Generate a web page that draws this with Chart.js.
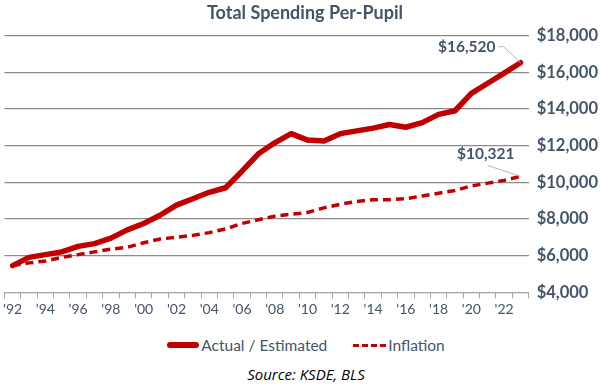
<!DOCTYPE html>
<html>
<head>
<meta charset="utf-8">
<script src="https://cdn.jsdelivr.net/npm/chart.js"></script>
<style>
  body { margin: 0; background: #fff; }
  #wrap { position: relative; width: 612px; height: 390px; font-family: Lato, 'Open Sans', sans-serif; }
  #chartBox { position: absolute; left: 0; top: 0; width: 612px; height: 321px; }
  .legend { position: absolute; top: 336px; left: 0; width: 612px; display: flex; justify-content: center; align-items: center; color: #44546A; font-size: 15.5px; }
  .legend .item { display: flex; align-items: center; margin: 0 10px; }
  .legend .solid { width: 32px; height: 0; border-top: 6px solid #C00000; border-radius: 3px; margin-right: 2px; }
  .legend .dash { width: 33px; height: 0; border-top: 3px dashed #C00000; margin-right: 2px; }
  .source { position: absolute; top: 364px; left: 0; width: 612px; text-align: center; font-style: italic; font-size: 15px; color: #000; font-family: 'Open Sans', sans-serif; }
</style>
</head>
<body>
<div id="wrap">
  <div id="chartBox"><canvas id="spending"></canvas></div>
  <div class="legend">
    <div class="item"><span class="solid"></span>Actual / Estimated</div>
    <div class="item" style="margin-left:16px"><span class="dash"></span>Inflation</div>
  </div>
  <div class="source">Source: KSDE, BLS</div>
</div>
<script>
// 연도 (1992 ~ 2023)
const years = ['92','93','94','95','96','97','98','99','00','01','02','03','04','05','06','07',
  '08','09','10','11','12','13','14','15','16','17','18','19','20','21','22','23'];

// 실제 / 추정 지출
const actual = [5450, 5900, 6050, 6200, 6500, 6650, 6950, 7400, 7750, 8200, 8750, 9100, 9450, 9700, 10600, 11550,
  12150, 12650, 12300, 12250, 12650, 12800, 12950, 13150, 13000, 13250, 13700, 13900, 14850, 15400, 15950, 16520];

// 인플레이션 반영
const inflation = [5450, 5600, 5700, 5900, 6050, 6200, 6350, 6450, 6700, 6900, 7000, 7100, 7250, 7450, 7750, 7950,
  8150, 8250, 8350, 8600, 8800, 8950, 9050, 9050, 9100, 9250, 9400, 9550, 9800, 9950, 10100, 10321];

const yTicks = [4000, 6000, 8000, 10000, 12000, 14000, 16000, 18000];

const navy = '#44546A';
const red = '#C00000';

// 마지막 값 라벨 + 지시선
const endLabels = {
  id: 'endLabels',
  afterDatasetsDraw(chart) {
    const ctx = chart.ctx;
    const last = years.length - 1;
    const p1 = chart.getDatasetMeta(0).data[last];
    const p2 = chart.getDatasetMeta(1).data[last];
    ctx.save();
    ctx.font = 'bold 15.5px Lato, sans-serif';
    ctx.fillStyle = navy;
    ctx.textBaseline = 'middle';
    ctx.textAlign = 'right';
    ctx.fillText('$' + actual[last].toLocaleString('en-US'), p1.x - 25, p1.y - 16);
    ctx.fillText('$' + inflation[last].toLocaleString('en-US'), p2.x - 6, p2.y - 22);
    ctx.strokeStyle = '#a9b7c9';
    ctx.lineWidth = 1;
    ctx.beginPath();
    ctx.moveTo(p1.x - 22, p1.y - 16);
    ctx.lineTo(p1.x - 17, p1.y - 16);
    ctx.lineTo(p1.x, p1.y);
    ctx.moveTo(p2.x - 33, p2.y - 11);
    ctx.lineTo(p2.x, p2.y);
    ctx.stroke();
    ctx.restore();
  }
};

new Chart(document.getElementById('spending'), {
  type: 'line',
  data: {
    labels: years,
    datasets: [{
      label: 'Actual / Estimated',
      data: actual,
      borderColor: red,
      borderWidth: 5.5,
      borderCapStyle: 'round',
      borderJoinStyle: 'round',
      pointRadius: 0,
      tension: 0
    }, {
      label: 'Inflation',
      data: inflation,
      borderColor: red,
      borderWidth: 3.5,
      borderDash: [8, 5],
      pointRadius: 0,
      tension: 0
    }]
  },
  options: {
    responsive: true,
    maintainAspectRatio: false,
    animation: false,
    layout: { padding: { left: 4, right: 6, top: 1 } },
    plugins: {
      legend: { display: false },
      tooltip: { enabled: false },
      title: {
        display: true,
        text: 'Total Spending Per-Pupil',
        color: navy,
        font: { family: "Lato, sans-serif", size: 18, weight: 'bold' },
        padding: { top: 1, bottom: 12 }
      }
    },
    scales: {
      x: {
        offset: true,
        grid: {
          offset: true,
          drawOnChartArea: false,
          drawTicks: true,
          tickLength: 6,
          tickColor: '#a6a6a6'
        },
        border: { display: true, color: '#a6a6a6', width: 1 },
        ticks: {
          autoSkip: false,
          maxRotation: 0,
          color: navy,
          font: { family: "Lato, sans-serif", size: 14 },
          padding: 3,
          callback: function(value, index) {
            return index % 2 === 0 ? "'" + years[index] : '';
          }
        }
      },
      y: {
        position: 'right',
        min: yTicks[0],
        max: yTicks[yTicks.length - 1],
        afterBuildTicks: function(axis) {
          axis.ticks = yTicks.map(v => ({ value: v }));
        },
        grid: { color: '#8c8c8c', lineWidth: 1.3, drawTicks: false },
        border: { display: false },
        ticks: {
          color: navy,
          padding: 8,
          font: { family: "Lato, sans-serif", size: 16.5, weight: 'bold' },
          callback: function(value) {
            return '$' + value.toLocaleString('en-US');
          }
        }
      }
    }
  },
  plugins: [endLabels]
});
</script>
</body>
</html>
